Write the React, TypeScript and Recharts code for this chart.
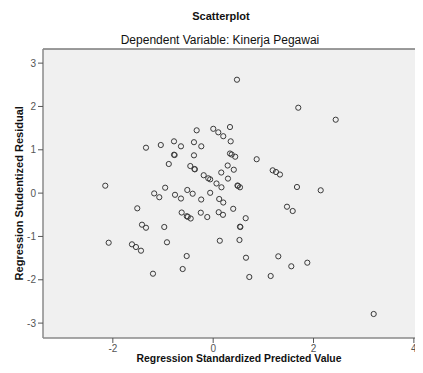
import React from "react";
import {
  ScatterChart,
  Scatter,
  XAxis,
  YAxis,
  CartesianGrid,
  ReferenceLine,
} from "recharts";

// Regression standardized predicted values (x) and studentized residuals (y)
const predictedValues: number[] = [
  0.474, 1.696, 2.442, -0.329, 0.002, 0.102, 0.201, 0.335, 0.349, -1.339,
  -1.044, -0.781, -0.642, -0.383, -0.237, -0.781, -0.769, -0.383, 0.335, 0.369,
  0.439, 0.867, -0.885, -0.456, -0.373, -0.365, 0.289, 0.411, 0.161, -0.189,
  -0.098, -0.06, 0.066, 0.165, 0.295, 0.484, 0.534, 0.494, 1.186, 1.252,
  1.331, 1.67, 2.143, -2.151, -0.957, -1.176, -1.074, -0.761, -0.642, -0.516,
  -0.409, -0.239, -0.06, 0.12, 0.201, 0.399, 0.648, -0.628, -0.526, -0.506,
  -0.448, -0.247, -0.118, 0.11, 0.195, 1.471, 1.585, -1.513, -1.419, -1.339,
  -0.975, 0.534, 0.542, -2.083, -1.619, -1.539, -1.439, -0.921, 0.132, 0.524,
  -0.528, -0.608, -1.2, 0.654, 1.298, 1.557, 1.876, 0.72, 1.146, 3.199,
];

const studentizedResiduals: number[] = [
  2.617, 1.971, 1.694, 1.449, 1.484, 1.403, 1.313, 1.525, 1.195, 1.048,
  1.11, 1.195, 1.08, 1.175, 1.08, 0.886, 0.879, 0.872, 0.914, 0.891,
  0.84, 0.782, 0.672, 0.625, 0.556, 0.549, 0.637, 0.54, 0.475, 0.413,
  0.342, 0.318, 0.222, 0.134, 0.335, 0.175, 0.134, 0.168, 0.526, 0.487,
  0.429, 0.141, 0.065, 0.171, 0.125, -0.007, -0.095, -0.039, -0.125, 0.072,
  -0.014, -0.148, 0.007, -0.136, -0.217, -0.362, -0.579, -0.448, -0.533, -0.547,
  -0.586, -0.452, -0.552, -0.441, -0.501, -0.314, -0.413, -0.351, -0.729, -0.799,
  -0.782, -0.775, -0.782, -1.145, -1.182, -1.244, -1.329, -1.135, -1.099, -1.082,
  -1.452, -1.752, -1.86, -1.491, -1.459, -1.689, -1.606, -1.936, -1.913, -2.79,
];

const xTicks: number[] = [-2, 0, 2, 4];
const yTicks: number[] = [-3, -2, -1, 0, 1, 2, 3];
const xDomain: [number, number] = [-3.392, 4.182];
const yDomain: [number, number] = [-3.344, 3.326];

const chartTitle = "Scatterplot";
const chartSubtitle = "Dependent Variable: Kinerja Pegawai";
const xTitle = "Regression Standardized Predicted Value";
const yTitle = "Regression Studentized Residual";

const data = predictedValues.map((x, i) => ({ x, y: studentizedResiduals[i] }));

const FONT = '"Liberation Sans", Arial, sans-serif';

const RingShape = (props: any) => {
  const { cx, cy } = props;
  if (cx == null || cy == null) return null;
  return (
    <circle cx={cx} cy={cy} r={2.6} fill="none" stroke="#3a3a3a" strokeWidth={1} />
  );
};

export default function App() {
  return (
    <div
      style={{
        position: "relative",
        width: 423,
        height: 373,
        marginLeft: -8,
        marginTop: -8,
        background: "#ffffff",
        overflow: "hidden",
      }}
    >
      <ScatterChart
        width={423}
        height={373}
        margin={{ top: 49, right: 0, bottom: 0, left: 0 }}
        style={{ fontFamily: FONT }}
      >
        <CartesianGrid horizontal={false} vertical={false} fill="#f0f0f0" stroke="none" />
        <XAxis
          type="number"
          dataKey="x"
          domain={xDomain}
          ticks={xTicks}
          allowDataOverflow
          height={35}
          tickSize={5}
          axisLine={{ stroke: "#8a8a8a", strokeWidth: 1.5 }}
          tickLine={{ stroke: "#555555" }}
          tick={{ fill: "#555555", fontSize: 10, fontFamily: FONT }}
        />
        <YAxis
          type="number"
          dataKey="y"
          domain={yDomain}
          ticks={yTicks}
          allowDataOverflow
          width={43}
          tickSize={5}
          axisLine={{ stroke: "#8a8a8a", strokeWidth: 1.5 }}
          tickLine={{ stroke: "#555555" }}
          tick={{ fill: "#555555", fontSize: 10, fontFamily: FONT }}
        />
        <ReferenceLine y={yDomain[1]} stroke="#7a7a7a" strokeWidth={1.5} />
        <Scatter data={data} shape={RingShape} isAnimationActive={false} />
      </ScatterChart>
      <svg
        width={423}
        height={373}
        style={{ position: "absolute", left: 0, top: 0, pointerEvents: "none" }}
      >
        <text x={221} y={16} textAnchor="middle" dominantBaseline="central" fontSize={11} fontWeight="bold" fontFamily={FONT} fill="#111">
          {chartTitle}
        </text>
        <text x={220} y={39.5} textAnchor="middle" dominantBaseline="central" fontSize={12} fontFamily={FONT} fill="#111">
          {chartSubtitle}
        </text>
        <text x={239} y={358.5} textAnchor="middle" dominantBaseline="central" fontSize={10.4} fontWeight="bold" fontFamily={FONT} fill="#111">
          {xTitle}
        </text>
        <text
          x={19}
          y={193.3}
          textAnchor="middle"
          dominantBaseline="central"
          fontSize={11}
          fontWeight="bold"
          fontFamily={FONT}
          fill="#111"
          transform="rotate(-90 19 193.3)"
        >
          {yTitle}
        </text>
      </svg>
    </div>
  );
}
